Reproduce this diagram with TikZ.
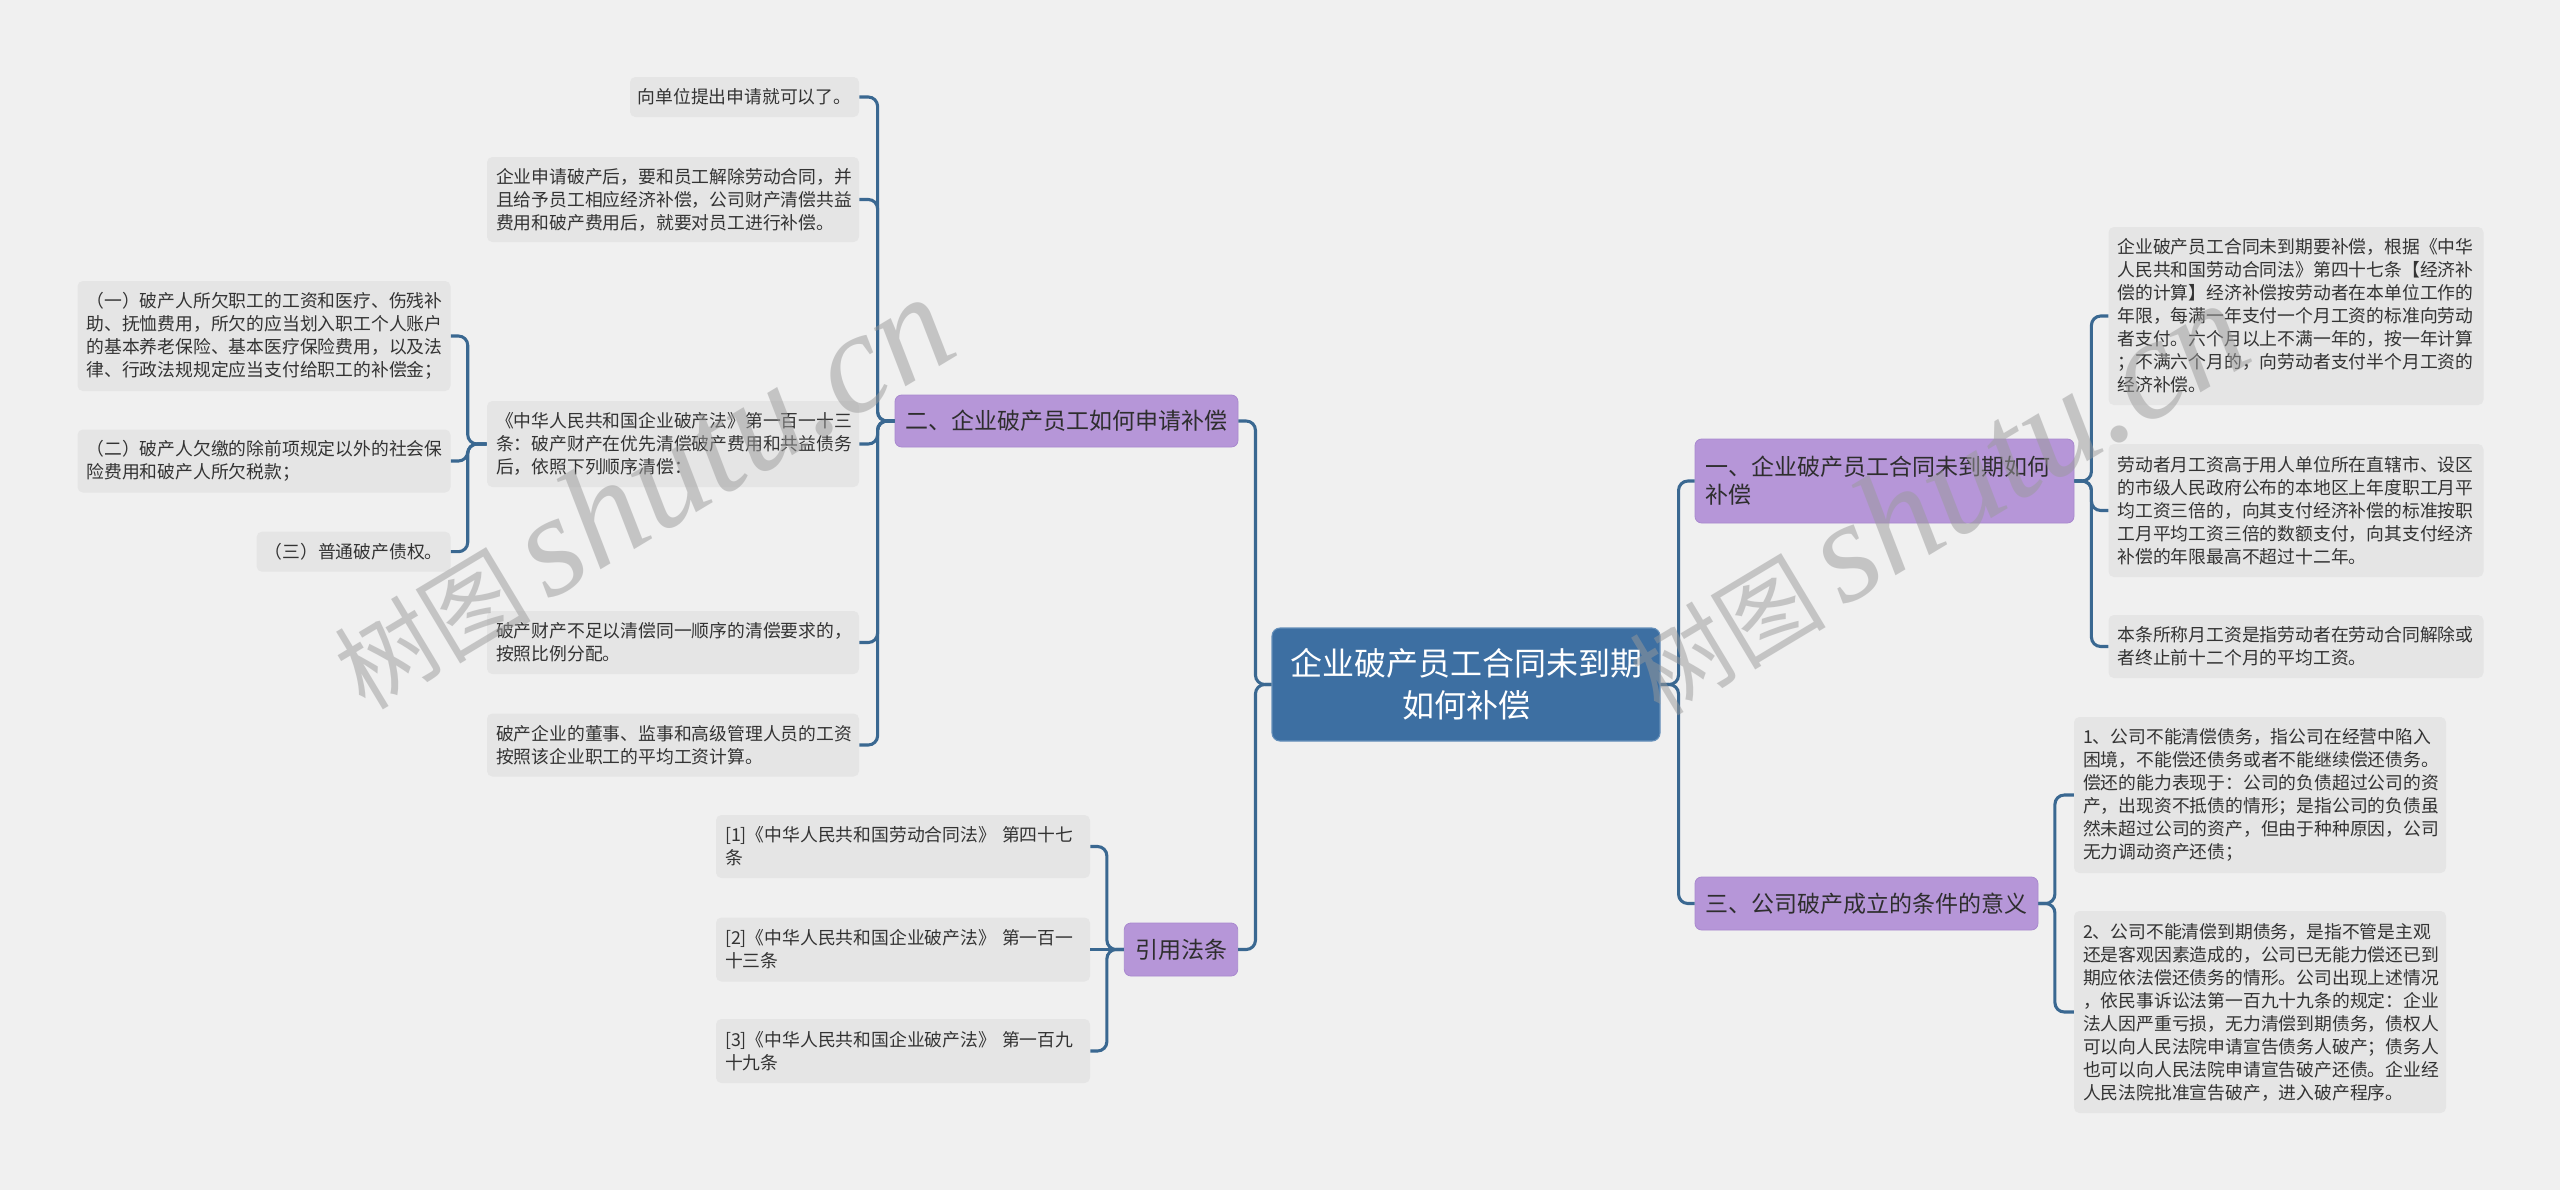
\documentclass[tikz,border=0pt]{standalone}
\usepackage{fontspec}
\setmainfont{Noto Sans CJK SC}
\newfontfamily\wmlatin{Liberation Serif}
\definecolor{bgc}{HTML}{F0F0F0}
\definecolor{leafc}{HTML}{E5E5E5}
\definecolor{txtc}{HTML}{333333}
\definecolor{linec}{HTML}{3A6891}
\definecolor{purc}{HTML}{B696D8}
\definecolor{purd}{HTML}{A888CE}
\definecolor{ptxt}{HTML}{2E2E2E}
\definecolor{rootc}{HTML}{3D6FA2}
\definecolor{rootd}{HTML}{6690BA}
\definecolor{wmc}{HTML}{9A9A9A}
\tikzset{
  conn/.style={draw=linec, line width=2.3pt, rounded corners=7pt},
  leaf/.style={fill=leafc, text=txtc, rounded corners=4pt, align=left,
    inner xsep=6.75pt, inner ysep=0pt, font=\fontsize{13.35pt}{17.25pt}\selectfont},
  leafone/.style={fill=leafc, text=txtc, rounded corners=4pt, align=center,
    inner sep=0pt, font=\fontsize{13.35pt}{17.25pt}\selectfont},
  purp/.style={fill=purc, draw=purd, line width=0.6pt, text=ptxt, rounded corners=5pt,
    inner sep=0pt, font=\fontsize{17.25pt}{21pt}\selectfont},
  root/.style={fill=rootc, draw=rootd, line width=0.8pt, text=white, rounded corners=6pt,
    align=center, inner sep=0pt, font=\fontsize{24pt}{31.3pt}\selectfont},
  wm/.style={text=wmc, opacity=0.5, anchor=base west, rotate=31, inner sep=0pt}
}
\begin{document}
\begin{tikzpicture}[x=0.75pt,y=-0.75pt]
\path[use as bounding box, fill=bgc] (0,0) rectangle (2560,1190);

% root
\node[root, minimum width=291pt, minimum height=84.75pt] (root) at (1466,684.5)
  {企业破产员工合同未到期\\如何补偿};

% main branches
\node[purp, minimum width=257.25pt, minimum height=39pt] (b2) at (1066.5,421) {二、企业破产员工如何申请补偿};
\node[purp, minimum width=85.1pt, minimum height=39.75pt] (b4) at (1181,949.5) {引用法条};
\node[purp, text width=269.25pt, inner xsep=7.5pt, align=left, minimum height=63pt] (b1) at (1884.5,481)
  {一、企业破产员工合同未到期如何\\补偿};
\node[purp, minimum width=257.25pt, minimum height=39.75pt] (b3) at (1866.5,903.5) {三、公司破产成立的条件的意义};

% right leaves of b1
\node[leaf, text width=267.75pt, minimum height=133.5pt] (r1) at (2296,316)
  {企业破产员工合同未到期要补偿，根据《中华\\人民共和国劳动合同法》第四十七条【经济补\\偿的计算】经济补偿按劳动者在本单位工作的\\年限，每满一年支付一个月工资的标准向劳动\\者支付。六个月以上不满一年的，按一年计算\\；不满六个月的，向劳动者支付半个月工资的\\经济补偿。};
\node[leaf, text width=267.75pt, minimum height=99.75pt] (r2) at (2296,510.5)
  {劳动者月工资高于用人单位所在直辖市、设区\\的市级人民政府公布的本地区上年度职工月平\\均工资三倍的，向其支付经济补偿的标准按职\\工月平均工资三倍的数额支付，向其支付经济\\补偿的年限最高不超过十二年。};
\node[leaf, text width=267.75pt, minimum height=47.25pt] (r3) at (2296,646.5)
  {本条所称月工资是指劳动者在劳动合同解除或\\者终止前十二个月的平均工资。};

% right leaves of b3
\node[leaf, text width=265.5pt, minimum height=117pt] (t1) at (2260,795)
  {1、公司不能清偿债务，指公司在经营中陷入\\困境，不能偿还债务或者不能继续偿还债务。\\偿还的能力表现于：公司的负债超过公司的资\\产，出现资不抵债的情形；是指公司的负债虽\\然未超过公司的资产，但由于种种原因，公司\\无力调动资产还债；};
\node[leaf, text width=265.5pt, minimum height=151.5pt] (t2) at (2260,1012)
  {2、公司不能清偿到期债务，是指不管是主观\\还是客观因素造成的，公司已无能力偿还已到\\期应依法偿还债务的情形。公司出现上述情况\\，依民事诉讼法第一百九十九条的规定：企业\\法人因严重亏损，无力清偿到期债务，债权人\\可以向人民法院申请宣告债务人破产；债务人\\也可以向人民法院申请宣告破产还债。企业经\\人民法院批准宣告破产，进入破产程序。};

% left leaves of b2
\node[leafone, minimum width=171.75pt, minimum height=30pt] (l1) at (744.5,97) {向单位提出申请就可以了。};
\node[leaf, text width=265.5pt, minimum height=63.75pt] (l2) at (673,199.5)
  {企业申请破产后，要和员工解除劳动合同，并\\且给予员工相应经济补偿，公司财产清偿共益\\费用和破产费用后，就要对员工进行补偿。};
\node[leaf, text width=265.5pt, minimum height=64.5pt] (l3) at (673,444)
  {《中华人民共和国企业破产法》第一百一十三\\条：破产财产在优先清偿破产费用和共益债务\\后，依照下列顺序清偿：};
\node[leaf, text width=265.5pt, minimum height=47.25pt] (l4) at (673,642.5)
  {破产财产不足以清偿同一顺序的清偿要求的，\\按照比例分配。};
\node[leaf, text width=265.5pt, minimum height=47.25pt] (l5) at (673,745)
  {破产企业的董事、监事和高级管理人员的工资\\按照该企业职工的平均工资计算。};

% sub leaves of l3
\node[leaf, text width=266.25pt, minimum height=82.5pt] (s1) at (264,336)
  {（一）破产人所欠职工的工资和医疗、伤残补\\助、抚恤费用，所欠的应当划入职工个人账户\\的基本养老保险、基本医疗保险费用，以及法\\律、行政法规规定应当支付给职工的补偿金；};
\node[leaf, text width=266.25pt, minimum height=47.25pt] (s2) at (264,461)
  {（二）破产人欠缴的除前项规定以外的社会保\\险费用和破产人所欠税款；};
\node[leafone, minimum width=145.5pt, minimum height=30pt] (s3) at (353.6,551.7) {（三）普通破产债权。};

% citation leaves
\node[leaf, text width=267pt, minimum height=47.25pt] (c1) at (903,846.5)
  {[1]《中华人民共和国劳动合同法》~第四十七\\条};
\node[leaf, text width=267pt, minimum height=48pt] (c2) at (903,949.5)
  {[2]《中华人民共和国企业破产法》~第一百一\\十三条};
\node[leaf, text width=267pt, minimum height=48pt] (c3) at (903,1051)
  {[3]《中华人民共和国企业破产法》~第一百九\\十九条};

% connectors
\draw[conn] (root.west) -- ++(-16,0) |- (b2.east);
\draw[conn] (root.west) -- ++(-16,0) |- (b4.east);
\draw[conn] (root.east) -- ++(18,0) |- (b1.west);
\draw[conn] (root.east) -- ++(18,0) |- (b3.west);

\foreach \c in {l1,l2,l3,l4,l5}{\draw[conn] (b2.west) -- ++(-17,0) |- (\c.east);}
\foreach \c in {s1,s2,s3}{\draw[conn] (l3.west) -- ++(-19,0) |- (\c.east);}
\draw[conn] (b4.west) -- ++(-17,0) |- (c1.east);
\draw[conn] (b4.west) -- (c2.east);
\draw[conn] (b4.west) -- ++(-17,0) |- (c3.east);
\foreach \c in {r1,r2,r3}{\draw[conn] (b1.east) -- ++(17,0) |- (\c.west);}
\foreach \c in {t1,t2}{\draw[conn] (b3.east) -- ++(16.5,0) |- (\c.west);}

% watermarks
\node[wm] (wm1) at (365,712) {\fontsize{74pt}{74pt}\selectfont 树图\,{\wmlatin\itshape\fontsize{108pt}{108pt}\selectfont shutu.cn}};
\node[wm] (wm2) at (1660,718) {\fontsize{74pt}{74pt}\selectfont 树图\,{\wmlatin\itshape\fontsize{108pt}{108pt}\selectfont shutu.cn}};
\end{tikzpicture}
\end{document}
